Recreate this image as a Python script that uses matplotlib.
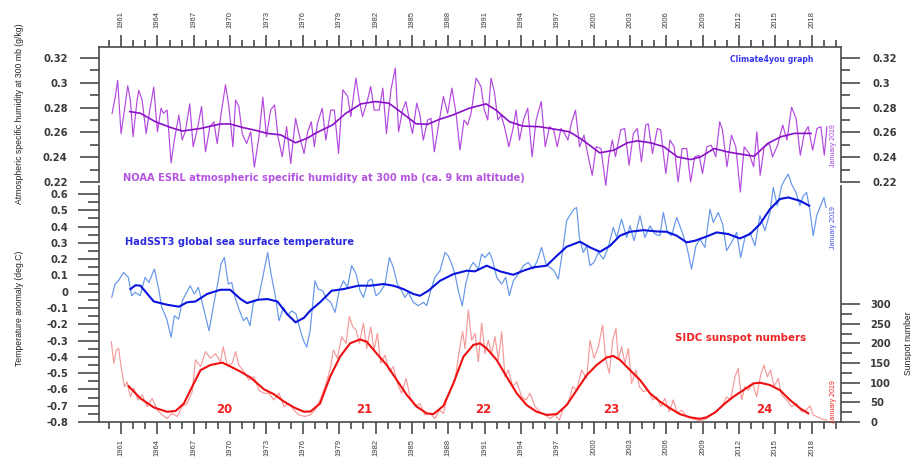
import numpy as np
import matplotlib
matplotlib.use('Agg')
import matplotlib.pyplot as plt
from matplotlib.ticker import FixedLocator, FuncFormatter

# NOAA ESRL specific humidity at 300 mb (g/kg)
hum_t = [1960.26, 1960.53, 1960.72, 1961.0, 1961.28, 1961.55, 1961.77, 1961.99, 1962.32, 1962.46,
         1962.74, 1963.07, 1963.37, 1963.7, 1964.0, 1964.3, 1964.5, 1964.8, 1965.13, 1965.4,
         1965.77, 1966.04, 1966.3, 1966.67, 1966.95, 1967.28, 1967.64, 1967.97, 1968.33, 1968.66,
         1968.93, 1969.3, 1969.62, 1969.9, 1970.23, 1970.45, 1970.72, 1971.0, 1971.36, 1971.7,
         1972.0, 1972.38, 1972.7, 1973.0, 1973.34, 1973.67, 1973.95, 1974.3, 1974.66, 1975.0,
         1975.4, 1975.68, 1976.1, 1976.4, 1976.7, 1976.95, 1977.2, 1977.6, 1977.9, 1978.3,
         1978.6, 1978.95, 1979.3, 1979.7, 1979.96, 1980.38, 1980.65, 1980.93, 1981.34, 1981.6,
         1981.9, 1982.3, 1982.6, 1982.9, 1983.27, 1983.63, 1983.9, 1984.23, 1984.5, 1984.8,
         1985.05, 1985.4, 1985.67, 1985.94, 1986.3, 1986.58, 1986.85, 1987.2, 1987.6, 1987.95,
         1988.3, 1988.64, 1988.97, 1989.3, 1989.6, 1989.88, 1990.3, 1990.7, 1990.98, 1991.26,
         1991.53, 1991.8, 1992.1, 1992.36, 1992.64, 1993.0, 1993.32, 1993.6, 1993.88, 1994.2,
         1994.56, 1994.92, 1995.25, 1995.67, 1996.0, 1996.36, 1996.7, 1997.0, 1997.3, 1997.6,
         1997.87, 1998.15, 1998.5, 1998.83, 1999.2, 1999.5, 1999.88, 2000.2, 2000.6, 2001.0,
         2001.26, 2001.54, 2001.8, 2002.23, 2002.56, 2002.92, 2003.28, 2003.6, 2003.94, 2004.3,
         2004.5, 2004.85, 2005.26, 2005.53, 2005.95, 2006.3, 2006.64, 2006.97, 2007.3, 2007.68,
         2008.0, 2008.34, 2008.7, 2008.98, 2009.34, 2009.7, 2010.08, 2010.4, 2010.63, 2011.0,
         2011.37, 2011.73, 2012.1, 2012.42, 2012.83, 2013.2, 2013.47, 2013.74, 2014.07, 2014.5,
         2014.76, 2015.18, 2015.6, 2015.95, 2016.33, 2016.7, 2017.05, 2017.38, 2017.7, 2018.07,
         2018.43, 2018.75, 2019.03, 2019.25]
hum_v = [0.2754, 0.289, 0.302, 0.259, 0.278, 0.2976, 0.286, 0.2565, 0.286, 0.294,
         0.286, 0.259, 0.278, 0.2965, 0.2605, 0.2795, 0.2754, 0.278, 0.2354, 0.254,
         0.274, 0.254, 0.2605, 0.283, 0.2484, 0.262, 0.2808, 0.2443, 0.2646, 0.2686,
         0.251, 0.278, 0.2984, 0.2808, 0.2484, 0.286, 0.281, 0.259, 0.251, 0.2605,
         0.232, 0.2565, 0.2884, 0.2565, 0.278, 0.2822, 0.2565, 0.2403, 0.2646, 0.2349,
         0.2714, 0.259, 0.243, 0.2605, 0.2686, 0.2484, 0.267, 0.2795, 0.2538, 0.278,
         0.278, 0.243, 0.2943, 0.289, 0.2727, 0.3038, 0.2862, 0.2727, 0.2862, 0.297,
         0.278, 0.278, 0.2957, 0.259, 0.2943, 0.3119, 0.2605, 0.278, 0.2849, 0.27,
         0.259, 0.2835, 0.274, 0.2538, 0.27, 0.2714, 0.2443, 0.266, 0.289, 0.2754,
         0.2957, 0.2754, 0.2457, 0.27, 0.266, 0.2754, 0.3038, 0.297, 0.278, 0.27,
         0.3038, 0.293, 0.27, 0.274, 0.2646, 0.2484, 0.262, 0.278, 0.2538, 0.27,
         0.2795, 0.2403, 0.27, 0.2849, 0.2484, 0.2646, 0.262, 0.2484, 0.2632, 0.2592,
         0.2538, 0.267, 0.278, 0.2484, 0.2578, 0.243, 0.2254, 0.2484, 0.247, 0.2173,
         0.2403, 0.2538, 0.2403, 0.262, 0.2632, 0.2335, 0.2592, 0.2632, 0.2362, 0.266,
         0.267, 0.243, 0.2632, 0.262, 0.2268, 0.2538, 0.2484, 0.22, 0.247, 0.247,
         0.22, 0.2403, 0.2416, 0.2268, 0.2484, 0.2497, 0.2403, 0.2686, 0.262, 0.2322,
         0.2578, 0.2484, 0.2119, 0.2484, 0.243, 0.2322, 0.2605, 0.2254, 0.2484, 0.251,
         0.2403, 0.2497, 0.266, 0.2538, 0.2803, 0.2714, 0.2416, 0.2592, 0.2646, 0.2457,
         0.2632, 0.2646, 0.2416, 0.2646]
hum_smooth_t = [1961.72, 1962.6, 1963.84, 1965.08, 1966.04, 1967.56, 1969.2, 1970.0, 1971.1, 1971.96,
                1973.06, 1974.17, 1975.4, 1976.4, 1977.07, 1978.45, 1979.55, 1980.8, 1982.0, 1983.1,
                1984.23, 1985.33, 1986.3, 1987.26, 1988.37, 1989.74, 1991.12, 1991.94, 1993.05, 1994.15,
                1995.53, 1996.9, 1998.0, 1999.1, 2000.5, 2001.68, 2002.78, 2003.6, 2004.7, 2005.8,
                2006.9, 2008.0, 2008.84, 2009.94, 2011.04, 2012.15, 2013.25, 2014.35, 2015.45, 2016.55,
                2017.93]
hum_smooth_v = [0.2768, 0.2754, 0.2686, 0.264, 0.2611, 0.2632, 0.2668, 0.2668, 0.2638, 0.262,
                0.2592, 0.258, 0.2516, 0.2555, 0.2595, 0.266, 0.2754, 0.283, 0.2849, 0.2835,
                0.2754, 0.267, 0.2665, 0.2705, 0.274, 0.2795, 0.283, 0.278, 0.2686, 0.2651,
                0.2646, 0.2624, 0.2605, 0.2538, 0.2435, 0.2457, 0.2516, 0.2532, 0.2516, 0.2484,
                0.2403, 0.2381, 0.2403, 0.247, 0.2443, 0.2424, 0.2408, 0.251, 0.2565, 0.2592,
                0.2592]

# HadSST3 global sea surface temperature anomaly (deg C)
sst_t = [1960.23, 1960.5, 1960.78, 1961.2, 1961.6, 1961.88, 1962.16, 1962.57, 1962.98, 1963.3,
         1963.75, 1964.08, 1964.36, 1964.77, 1965.13, 1965.4, 1965.75, 1966.06, 1966.42, 1966.7,
         1967.05, 1967.38, 1967.79, 1968.26, 1968.6, 1968.97, 1969.25, 1969.52, 1969.85, 1970.13,
         1970.4, 1970.73, 1971.1, 1971.37, 1971.64, 1971.92, 1972.33, 1972.74, 1973.1, 1973.38,
         1973.7, 1974.04, 1974.4, 1974.75, 1975.08, 1975.44, 1975.77, 1976.05, 1976.32, 1976.6,
         1977.0, 1977.28, 1977.64, 1977.97, 1978.3, 1978.66, 1979.0, 1979.35, 1979.68, 1980.03,
         1980.4, 1980.72, 1981.0, 1981.4, 1981.68, 1982.04, 1982.37, 1982.78, 1983.14, 1983.47,
         1983.8, 1984.16, 1984.43, 1984.7, 1985.12, 1985.53, 1985.95, 1986.22, 1986.55, 1986.9,
         1987.32, 1987.73, 1988.0, 1988.28, 1988.56, 1988.83, 1989.16, 1989.44, 1989.8, 1990.07,
         1990.48, 1990.76, 1991.03, 1991.4, 1991.67, 1992.0, 1992.41, 1992.74, 1993.04, 1993.37,
         1993.78, 1994.2, 1994.6, 1995.0, 1995.35, 1995.7, 1996.07, 1996.4, 1996.73, 1997.08,
         1997.44, 1997.77, 1998.1, 1998.38, 1998.6, 1998.82, 1999.14, 1999.42, 1999.7, 2000.03,
         2000.38, 2000.8, 2001.2, 2001.62, 2001.9, 2002.3, 2002.72, 2003.0, 2003.33, 2003.82,
         2004.23, 2004.65, 2005.06, 2005.47, 2005.75, 2006.08, 2006.43, 2006.85, 2007.26, 2007.67,
         2008.08, 2008.44, 2008.77, 2009.18, 2009.6, 2009.87, 2010.28, 2010.64, 2010.97, 2011.38,
         2011.8, 2012.13, 2012.48, 2012.9, 2013.31, 2013.72, 2014.13, 2014.55, 2014.82, 2015.15,
         2015.51, 2015.78, 2016.06, 2016.33, 2016.69, 2017.02, 2017.3, 2017.57, 2017.85, 2018.12,
         2018.4, 2018.73, 2019.0, 2019.17]
sst_v = [-0.035, 0.047, 0.067, 0.118, 0.088, -0.025, -0.004, -0.025, 0.088, 0.057,
         0.139, 0.027, -0.096, -0.168, -0.28, -0.147, -0.168, -0.055, -0.004, 0.037,
         -0.014, 0.027, -0.096, -0.24, -0.096, 0.047, 0.17, 0.21, 0.047, 0.057,
         -0.035, -0.107, -0.178, -0.157, -0.209, -0.066, -0.045, 0.108, 0.24, 0.108,
         -0.014, -0.178, -0.096, -0.147, -0.117, -0.137, -0.23, -0.30, -0.34, -0.24,
         0.067, 0.016, 0.006, -0.045, -0.065, -0.127, 0.006, 0.067, 0.027, 0.16,
         0.108, 0.006, -0.035, 0.067, 0.078, -0.025, -0.004, 0.047, 0.21, 0.149,
         0.047, 0.006, -0.035, -0.004, -0.065, -0.086, -0.065, -0.086, 0.006, 0.088,
         0.129, 0.241, 0.22, 0.17, 0.108, 0.006, -0.086, 0.047, 0.149, 0.18,
         0.139, 0.231, 0.21, 0.241, 0.19, 0.088, 0.047, 0.088, -0.025, 0.067,
         0.108, 0.16, 0.18, 0.139, 0.19, 0.272, 0.17, 0.149, 0.129, 0.078,
         0.252, 0.436, 0.476, 0.507, 0.517, 0.333, 0.241, 0.282, 0.16, 0.18,
         0.241, 0.2, 0.272, 0.395, 0.333, 0.446, 0.333, 0.405, 0.313, 0.466,
         0.333, 0.405, 0.354, 0.344, 0.487, 0.364, 0.344, 0.456, 0.374, 0.282,
         0.139, 0.282, 0.323, 0.272, 0.507, 0.425, 0.487, 0.415, 0.252, 0.303,
         0.364, 0.21, 0.333, 0.364, 0.282, 0.466, 0.374, 0.487, 0.64, 0.528,
         0.65, 0.69, 0.722, 0.66, 0.61, 0.528, 0.589, 0.61, 0.497, 0.344,
         0.466, 0.528, 0.579, 0.517]
sst_smooth_t = [1961.77, 1962.2, 1962.6, 1963.7, 1964.8, 1965.77, 1966.45, 1967.14, 1968.1, 1969.2,
                1970.0, 1970.86, 1971.4, 1972.24, 1973.07, 1973.9, 1974.7, 1975.4, 1976.1, 1976.6,
                1977.42, 1978.38, 1979.35, 1980.58, 1981.55, 1982.65, 1983.47, 1984.3, 1985.12, 1985.67,
                1986.36, 1987.32, 1988.42, 1989.52, 1990.2, 1991.17, 1992.27, 1993.37, 1994.2, 1995.0,
                1996.12, 1996.95, 1997.77, 1998.87, 1999.7, 2000.52, 2001.35, 2002.17, 2003.0, 2004.1,
                2005.2, 2006.02, 2006.85, 2007.67, 2008.36, 2009.32, 2010.15, 2011.11, 2012.07, 2012.9,
                2013.72, 2014.55, 2015.37, 2016.06, 2017.02, 2017.79]
sst_smooth_v = [0.016, 0.04, 0.037, -0.06, -0.08, -0.092, -0.065, -0.06, -0.014, 0.012,
                0.012, -0.045, -0.07, -0.05, -0.045, -0.06, -0.137, -0.188, -0.16, -0.117,
                -0.065, 0.006, 0.016, 0.037, 0.037, 0.047, 0.037, 0.016, -0.014, -0.025,
                0.006, 0.067, 0.108, 0.129, 0.125, 0.16, 0.125, 0.104, 0.129, 0.149,
                0.16, 0.22, 0.276, 0.307, 0.272, 0.245, 0.282, 0.344, 0.368, 0.378,
                0.37, 0.368, 0.344, 0.303, 0.313, 0.339, 0.364, 0.354, 0.327, 0.354,
                0.415, 0.507, 0.569, 0.579, 0.558, 0.528]

# SIDC monthly sunspot numbers
ssn_t = [1960.2, 1960.4, 1960.6, 1960.8, 1961.0, 1961.28, 1961.5, 1961.77, 1962.05, 1962.38,
         1962.74, 1963.15, 1963.56, 1964.0, 1964.4, 1964.8, 1965.2, 1965.63, 1966.04, 1966.45,
         1966.87, 1967.14, 1967.56, 1967.97, 1968.38, 1968.8, 1969.2, 1969.43, 1969.76, 1970.17,
         1970.45, 1970.72, 1971.14, 1971.55, 1971.96, 1972.38, 1972.8, 1973.2, 1973.6, 1974.03,
         1974.44, 1974.86, 1975.27, 1975.68, 1976.18, 1976.6, 1977.0, 1977.42, 1977.83, 1978.25,
         1978.52, 1978.85, 1979.2, 1979.57, 1979.84, 1980.12, 1980.4, 1980.67, 1981.0, 1981.27,
         1981.6, 1981.88, 1982.15, 1982.43, 1982.78, 1983.14, 1983.47, 1983.8, 1984.16, 1984.52,
         1984.85, 1985.26, 1985.67, 1986.08, 1986.5, 1986.9, 1987.27, 1987.6, 1987.87, 1988.2,
         1988.56, 1988.92, 1989.19, 1989.38, 1989.66, 1989.93, 1990.21, 1990.48, 1990.76, 1991.03,
         1991.31, 1991.58, 1991.86, 1992.13, 1992.41, 1992.68, 1992.96, 1993.32, 1993.65, 1994.06,
         1994.42, 1994.75, 1995.16, 1995.57, 1995.98, 1996.4, 1996.81, 1997.17, 1997.5, 1997.9,
         1998.27, 1998.6, 1999.0, 1999.42, 1999.7, 2000.03, 2000.38, 2000.74, 2001.0, 2001.29,
         2001.57, 2001.84, 2002.03, 2002.3, 2002.58, 2002.86, 2003.13, 2003.49, 2003.77, 2004.1,
         2004.5, 2004.87, 2005.2, 2005.53, 2005.88, 2006.24, 2006.57, 2006.9, 2007.26, 2007.67,
         2008.08, 2008.5, 2008.9, 2009.32, 2009.73, 2010.15, 2010.56, 2010.97, 2011.3, 2011.66,
         2011.93, 2012.21, 2012.48, 2012.76, 2013.12, 2013.45, 2013.78, 2014.05, 2014.33, 2014.6,
         2014.88, 2015.23, 2015.51, 2015.92, 2016.33, 2016.75, 2017.16, 2017.52, 2017.85, 2018.12,
         2018.53, 2018.89, 2019.22]
ssn_v = [204, 149, 183, 187, 141, 90, 102, 64, 86, 56,
         69, 39, 60, 30, 18, 9, 22, 14, 39, 47,
         77, 158, 141, 179, 162, 174, 153, 191, 145, 149,
         179, 145, 128, 107, 115, 81, 73, 73, 56, 73,
         39, 47, 30, 18, 14, 18, 30, 56, 90, 132,
         183, 162, 217, 200, 268, 242, 234, 200, 251, 187,
         242, 183, 225, 149, 170, 128, 141, 98, 73, 111,
         64, 39, 47, 18, 22, 9, 30, 22, 56, 81,
         107, 183, 230, 187, 285, 208, 225, 153, 251, 174,
         208, 174, 217, 158, 230, 115, 132, 90, 102, 64,
         56, 73, 39, 26, 18, 9, 18, 5, 35, 47,
         90, 81, 132, 111, 208, 162, 191, 246, 158, 124,
         208, 238, 158, 191, 149, 187, 98, 132, 90, 77,
         81, 56, 64, 39, 60, 26, 56, 22, 30, 14,
         9, 5, 3, 9, 18, 26, 39, 64, 56, 115,
         136, 56, 90, 81, 98, 64, 119, 145, 115, 132,
         90, 111, 69, 56, 39, 47, 26, 30, 41, 18,
         12, 7, 5]
ssn_smooth_t = [1961.63, 1962.6, 1963.7, 1964.8, 1965.5, 1966.18, 1966.87, 1967.56, 1968.38, 1969.35,
                1970.03, 1970.86, 1971.69, 1972.8, 1973.6, 1974.44, 1975.27, 1976.1, 1976.65, 1977.42,
                1978.25, 1979.07, 1979.9, 1980.72, 1981.27, 1982.1, 1982.92, 1983.75, 1984.57, 1985.4,
                1986.22, 1986.77, 1987.6, 1988.42, 1989.25, 1990.07, 1990.62, 1991.17, 1991.99, 1992.82,
                1993.65, 1994.47, 1995.3, 1996.12, 1996.95, 1997.77, 1998.6, 1999.42, 2000.25, 2001.07,
                2001.62, 2002.17, 2003.0, 2003.82, 2004.65, 2005.47, 2006.3, 2007.12, 2007.95, 2008.77,
                2009.32, 2010.0, 2010.83, 2011.52, 2012.35, 2013.17, 2013.72, 2014.55, 2015.37, 2016.2,
                2017.02, 2017.71]
ssn_smooth_v = [91, 60, 37, 26, 28, 47, 90, 132, 145, 151,
                141, 128, 113, 83, 71, 52, 37, 26, 27, 47,
                115, 166, 200, 210, 204, 174, 145, 107, 69, 39,
                22, 20, 41, 98, 166, 196, 200, 187, 158, 115,
                73, 43, 26, 18, 20, 43, 81, 119, 145, 164,
                168, 158, 132, 107, 73, 52, 35, 20, 12, 8,
                12, 24, 47, 64, 81, 98, 100, 94, 81, 56,
                35, 22]

cycle_labels = ['20', '21', '22', '23', '24']
cycle_years = [1969.5, 1981.05, 1990.87, 2001.43, 2014.1]

major_years = list(range(1961, 2019, 3))
minor_years = list(range(1960, 2021))

W, H = 912, 457
fig = plt.figure(figsize=(W / 100, H / 100), dpi=100)
fig.patch.set_facecolor('white')

spine_col = '#4a4a4a'
tick_col = '#3a3a3a'
narrow = ['Liberation Sans Narrow', 'Liberation Sans']


def fmt(v, pos):
    return '{:g}'.format(round(v, 2) + 0.0)


ax1 = fig.add_axes([99 / W, (H - 182) / H, 742 / W, 135 / H])
ax2 = fig.add_axes([99 / W, (H - 422) / H, 742 / W, 236 / H])
ax3 = ax2.twinx()

for ax in (ax1, ax2, ax3):
    ax.set_xlim(1959.18, 2020.41)
    ax.patch.set_alpha(0)
    for s in ax.spines.values():
        s.set_color(spine_col)
        s.set_linewidth(1.2)

# upper panel: humidity
ax1.plot(hum_t, hum_v, color='#b348de', lw=0.85, clip_on=False)
ax1.plot(hum_smooth_t, hum_smooth_v, color='#8a10c8', lw=1.2, clip_on=False)
ax1.set_ylim(0.22, 0.22 + 135 * 0.02 / 24.8)
ax1.spines['bottom'].set_visible(False)
ax1.yaxis.set_major_locator(FixedLocator([0.22, 0.24, 0.26, 0.28, 0.30, 0.32]))
ax1.yaxis.set_minor_locator(FixedLocator([0.23, 0.25, 0.27, 0.29, 0.31]))
ax1.yaxis.set_major_formatter(FuncFormatter(fmt))
ax1.xaxis.tick_top()
ax1.tick_params(axis='y', which='both', direction='out', left=True, right=True,
                labelleft=True, labelright=True, colors=tick_col, labelsize=7.2)
ax1.tick_params(axis='y', which='major', length=14, width=1.1, pad=8.5)
ax1.tick_params(axis='y', which='minor', length=6.5, width=1.1)

# lower panel: sea surface temperature
ax2.plot(sst_t, sst_v, color='#6496ea', lw=0.85, clip_on=False)
ax2.plot(sst_smooth_t, sst_smooth_v, color='#0a14dc', lw=1.5, clip_on=False)
ax2.set_ylim(-0.8, 0.649)
ax2.spines['top'].set_visible(False)
ax2.spines['right'].set_visible(False)
ax2.yaxis.set_major_locator(FixedLocator(np.round(np.arange(-0.8, 0.61, 0.1), 1)))
ax2.yaxis.set_minor_locator(FixedLocator(np.round(np.arange(-0.75, 0.6, 0.1), 2)))
ax2.yaxis.set_major_formatter(FuncFormatter(fmt))
ax2.tick_params(axis='y', which='both', direction='out', colors=tick_col, labelsize=7.2)
ax2.tick_params(axis='y', which='major', length=15, width=1.1, pad=7)
ax2.tick_params(axis='y', which='minor', length=8, width=1.1)

# sunspots on the right-hand scale
ax3.plot(ssn_t, ssn_v, color='#f49a9a', lw=0.85)
ax3.plot(ssn_smooth_t, ssn_smooth_v, color='#ee1010', lw=1.5)
ax3.set_ylim(0, 600)
ax3.spines['top'].set_visible(False)
ax3.spines['left'].set_visible(False)
ax3.spines['bottom'].set_visible(False)
ax3.yaxis.set_major_locator(FixedLocator([0, 50, 100, 150, 200, 250, 300]))
ax3.yaxis.set_minor_locator(FixedLocator([25, 75, 125, 175, 225, 275]))
ax3.tick_params(axis='y', which='both', direction='out', colors=tick_col, labelsize=7.2)
ax3.tick_params(axis='y', which='major', length=14, width=1.1, pad=7)
ax3.tick_params(axis='y', which='minor', length=8, width=1.1)

# year axis, labelled above and below
for ax, lab_pad in ((ax1, 5), (ax2, 3.5)):
    ax.xaxis.set_major_locator(FixedLocator(major_years))
    ax.xaxis.set_minor_locator(FixedLocator(minor_years))
    ax.set_xticklabels([str(y) for y in major_years], rotation=90, family=narrow, fontsize=5.5)
    ax.tick_params(axis='x', which='both', direction='out', colors=tick_col)
    ax.tick_params(axis='x', which='major', length=8.5, width=1.1, pad=lab_pad)
    ax.tick_params(axis='x', which='minor', length=5, width=1.1)

for ax in (ax1, ax2, ax3):
    for lab in ax.get_yticklabels():
        lab.set_fontweight('bold')

# labels inside the panels
ax1.text(1961.15, 0.2232, 'NOAA ESRL atmospheric specific humidity at 300 mb (ca. 9 km altitude)',
         color='#b454e0', fontsize=7.1, fontweight='bold', va='center', ha='left')
ax1.text(2011.25, 0.319, 'Climate4you graph', color='#3535f0', fontsize=5.6,
         fontweight='bold', va='center', ha='left')
ax1.text(2019.75, 0.249, 'January 2019', color='#a040d8', rotation=90, family=narrow,
         fontsize=5, va='center', ha='center')
ax2.text(1961.3, 0.307, 'HadSST3 global sea surface temperature', color='#2a2ae0',
         fontsize=7.1, fontweight='bold', va='center', ha='left')
ax2.text(2019.75, 0.393, 'January 2019', color='#4a4ae8', rotation=90, family=narrow,
         fontsize=5, va='center', ha='center')
ax3.text(2006.7, 213, 'SIDC sunspot numbers', color='#ee2424', fontsize=7.4,
         fontweight='bold', va='center', ha='left')
ax3.text(2019.75, 51, 'January 2019', color='#ee2424', rotation=90, family=narrow,
         fontsize=5, va='center', ha='center')
for lab, yr in zip(cycle_labels, cycle_years):
    ax3.text(yr, 32, lab, color='#ee2222', fontsize=8.5, fontweight='bold',
             va='center', ha='center')

fig.text(20 / W, (H - 114) / H, 'Atmospheric specific humidity at 300 mb (g/kg)', rotation=90,
         family=narrow, fontsize=6.2, color='#222222', va='center', ha='center')
fig.text(20 / W, (H - 308) / H, 'Temperature anomaly (deg.C)', rotation=90,
         family=narrow, fontsize=6.2, color='#222222', va='center', ha='center')
fig.text(909 / W, (H - 343) / H, 'Sunspot number', rotation=90,
         family=narrow, fontsize=6.2, color='#222222', va='center', ha='center')

fig.savefig('out.png', dpi=100)
